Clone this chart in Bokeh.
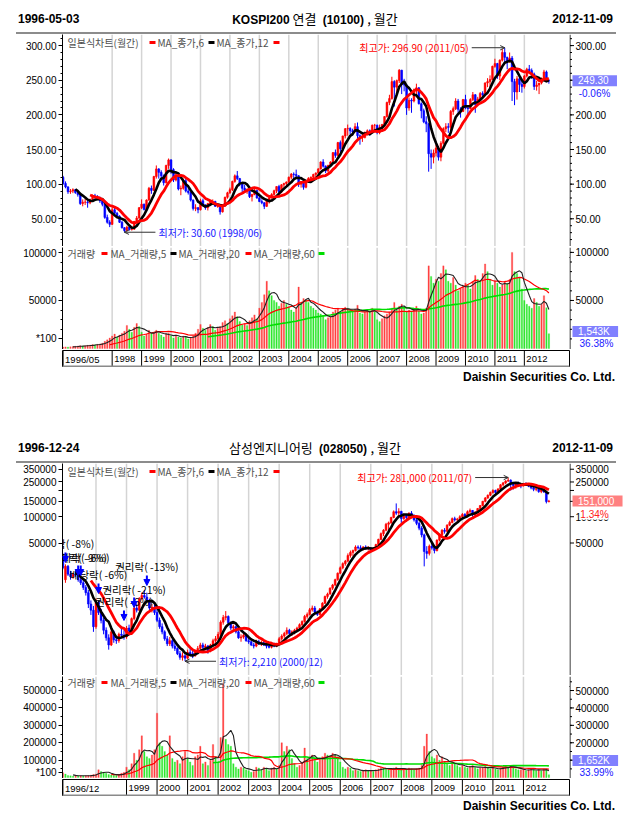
import numpy as np
from bokeh.plotting import figure
from bokeh.models import (Range1d, LinearAxis, LogAxis, FixedTicker, NumeralTickFormatter,
                          Label, BoxAnnotation, ColumnDataSource, Span, Arrow, NormalHead, Div)
from bokeh.layouts import column, row
from bokeh.embed import file_html
from bokeh.resources import INLINE
from bokeh.core.properties import value

# ======================= KOSPI200 (monthly 1996/05 - 2012/11) =======================
k_title = ("KOSPI200", "연결", "(10100)", "월간")
k_from, k_to = "1996-05-03", "2012-11-09"
k_start = (1996, 5)
k_open = [
    110, 101, 96, 89, 90, 92, 88, 85,
    72, 74, 74, 73, 78, 83, 82, 80, 76, 71, 52, 45,
    42, 63, 58, 54, 45, 37, 33, 38, 34.5, 35, 46, 51,
    66, 71, 63.5, 77, 94, 91, 111, 122, 117, 112, 102, 127,
    135, 121, 106, 111, 93, 94, 105, 90, 88, 77, 65, 66,
    63, 76, 70, 66, 72, 75, 75, 68, 68.5, 60, 68, 81,
    87.5, 92, 104, 112, 108, 101, 94, 91, 92, 82, 85, 91,
    80, 75, 73, 68, 76, 80.5, 85, 90.5, 96.5, 88.5, 99, 101,
    103, 110, 114.5, 114, 112, 100, 102, 95.5, 104, 108.5, 110, 114,
    116, 122, 132, 126, 119, 127, 132, 145.5, 141.5, 160, 151, 169.5,
    180, 180.5, 177, 175.5, 183, 170, 167, 167.5, 174.5, 177, 176, 185,
    185, 174.5, 181.5, 186, 197.5, 218, 223.5, 248, 240, 249.5, 264.5, 244,
    243, 210, 221, 220, 236, 239, 216, 206, 190, 187, 144, 139,
    145, 152, 139, 159, 180, 183, 182, 205, 209, 220, 208, 205,
    222, 210, 209, 222, 229, 215, 223, 231, 229, 246, 248, 251,
    270, 274, 256, 279, 290, 283, 278, 282, 248, 233, 252, 244,
    241, 256, 266, 264, 259, 241, 243, 246, 250, 262, 249.45]
k_high = [
    112, 104, 97, 93, 94, 93, 89, 86,
    78, 79, 76, 79, 85, 86, 84, 82, 77, 72, 56, 48,
    66, 68, 60, 55, 47, 38, 40, 39, 37, 47, 54, 67,
    78, 72, 78, 96, 98, 112, 127, 123, 120, 114, 128, 137,
    136, 123, 118, 113, 98, 108, 108, 94, 89, 78, 71, 67,
    79, 79, 71, 73, 77, 78, 76, 71, 70, 69, 82, 89,
    95, 105, 114, 119, 109, 103, 99, 94, 93, 86, 93, 92,
    83, 78, 74, 78, 81, 87, 92, 97, 99, 100, 102, 104,
    111, 116, 117, 121, 113, 104, 103, 105, 110, 111, 115, 117,
    123, 133, 136, 127, 128, 133, 146, 150, 161, 163, 170, 181,
    186, 182, 180, 188, 189, 172, 172, 176, 179, 179, 186, 187,
    186, 186, 187, 198, 219, 229, 255, 250, 251, 266, 265, 252,
    244, 225, 224, 238, 245, 240, 218, 209, 198, 188, 150, 150,
    157, 155, 162, 182, 188, 188, 207, 212, 224, 223, 211, 223,
    229, 213, 224, 233, 230, 226, 233, 234, 247, 253, 257, 271,
    281, 275, 280, 295, 296.9, 284, 290, 285, 252, 256, 257, 251,
    258, 268, 272, 267, 261, 249, 246, 254, 265, 264, 252]
k_low = [
    99, 94, 86, 86, 87, 86, 82, 70,
    68, 70, 66, 71, 77, 79, 77, 73, 68, 50, 43, 38,
    41, 56, 52, 44, 36, 30.6, 32, 33, 33, 34, 45, 50,
    64, 62, 62, 76, 86, 90, 108, 108, 108, 98, 101, 122,
    115, 103, 104, 91, 84, 92, 88, 85, 75, 62, 61, 58,
    62, 69, 63, 62, 70, 72, 67, 66, 56, 59, 67, 79,
    86, 90, 102, 106, 97, 88, 88, 86, 80, 75, 84, 79,
    74, 71, 64, 67, 72, 79, 84, 87, 86, 87, 95, 96,
    101, 107, 106, 110, 96, 95, 92, 94, 102, 104, 107, 110,
    113, 121, 124, 116, 117, 126, 131, 138, 140, 146, 150, 166,
    170, 172, 170, 175, 166, 157, 161, 166, 170, 170, 175, 178,
    172, 172, 176, 185, 196, 214, 222, 212, 232, 246, 230, 234,
    200, 206, 203, 218, 230, 215, 195, 188, 175, 118, 122, 130,
    140, 134, 133, 157, 175, 174, 178, 200, 207, 203, 196, 204,
    208, 200, 208, 220, 203, 213, 220, 224, 228, 240, 240, 250,
    268, 252, 250, 277, 274, 266, 275, 220, 214, 222, 233, 232,
    238, 254, 260, 252, 236, 235, 230, 244, 248, 247, 245]
k_close = [
    101, 96, 89, 90, 92, 88, 85, 72,
    74, 74, 73, 78, 83, 82, 80, 76, 71, 52, 45, 42,
    63, 58, 54, 45, 37, 33, 38, 34.5, 35, 46, 51, 66,
    71, 63.5, 77, 94, 91, 111, 122, 117, 112, 102, 127, 135,
    121, 106, 111, 93, 94, 105, 90, 88, 77, 65, 66, 63,
    76, 70, 66, 72, 75, 75, 68, 68.5, 60, 68, 81, 87.5,
    92, 104, 112, 108, 101, 94, 91, 92, 82, 85, 91, 80,
    75, 73, 68, 76, 80.5, 85, 90.5, 96.5, 88.5, 99, 101, 103,
    110, 114.5, 114, 112, 100, 102, 95.5, 104, 108.5, 110, 114, 116,
    122, 132, 126, 119, 127, 132, 145.5, 141.5, 160, 151, 169.5, 180,
    180.5, 177, 175.5, 183, 170, 167, 167.5, 174.5, 177, 176, 185, 185,
    174.5, 181.5, 186, 197.5, 218, 223.5, 248, 240, 249.5, 264.5, 244, 243,
    210, 221, 220, 236, 239, 216, 206, 190, 187, 144, 139, 145,
    152, 139, 159, 180, 183, 182, 205, 209, 220, 208, 205, 222,
    210, 209, 222, 229, 215, 223, 231, 229, 246, 248, 251, 270,
    274, 256, 279, 290, 283, 278, 282, 248, 233, 252, 244, 241,
    256, 266, 264, 259, 241, 243, 246, 250, 262, 249.45, 249.3]
k_vol = [  # x100 shares
    1500, 1700, 1500, 1800, 2000, 2300, 2600, 3000,
    2600, 2900, 3300, 3600, 4200, 3900, 4400, 4800, 5500, 7500, 9000, 11000,
    13000, 15000, 12000, 14000, 16000, 18000, 24000, 20000, 17000, 22000, 26000, 23000,
    17000, 13000, 15000, 19000, 16000, 17000, 19000, 16000, 14000, 12000, 15000, 16000,
    13000, 11000, 14000, 12000, 11000, 13000, 12000, 10000, 11000, 13000, 16000, 20000,
    25000, 21000, 19000, 22000, 25000, 23000, 19000, 21000, 23000, 27000, 29000, 26000,
    31000, 34000, 38000, 33000, 28000, 25000, 26000, 24000, 29000, 32000, 35000, 31000,
    42000, 48000, 56000, 70000, 60000, 55000, 50000, 48000, 44000, 47000, 50000, 46000,
    43000, 40000, 38000, 42000, 64000, 47000, 52000, 50000, 48000, 44000, 42000, 40000,
    37000, 36000, 34000, 30000, 32000, 33000, 38000, 40000, 42000, 39000, 41000, 43000,
    42000, 40000, 38000, 41000, 45000, 37000, 36000, 38000, 40000, 39000, 42000, 38000,
    30000, 28000, 31000, 34000, 36000, 38000, 42000, 48000, 40000, 44000, 46000, 43000,
    38000, 40000, 38000, 42000, 44000, 39000, 36000, 37000, 42000, 86000, 75000, 68000,
    72000, 70000, 78000, 86000, 82000, 70000, 68000, 74000, 66000, 60000, 62000, 65000,
    68000, 66000, 62000, 70000, 76000, 72000, 70000, 78000, 88000, 80000, 72000, 66000,
    70000, 68000, 64000, 66000, 70000, 68000, 72000, 100000, 80000, 78000, 74000, 62000,
    50000, 46000, 44000, 42000, 52000, 48000, 44000, 46000, 55000, 42410, 15430]
k_date_labels = ["1996/05", "1998", "1999", "2000", "2001", "2002", "2003", "2004",
                 "2005", "2006", "2007", "2008", "2009", "2010", "2011", "2012"]
k_grid_years = ["1998", "1999", "2000", "2001", "2002", "2003", "2004", "2005",
                "2006", "2007", "2008", "2009", "2010", "2011", "2012"]

# ======================= Samsung Engineering (monthly 1996/12 - 2012/11) =======================
s_title = ("", "삼성엔지니어링", "(028050)", "월간")
s_from, s_to = "1996-12-24", "2012-11-09"
s_start = (1996, 12)
s_open = [
    34000,
    19000, 27000, 22000, 20500, 22000, 21500, 19000, 17500, 15500, 13500, 10000, 8500,
    5500, 10500, 8000, 6500, 5000, 4100, 3400, 4800, 3900, 3800, 4500, 4400,
    4200, 5300, 4900, 6800, 9000, 8500, 11500, 12500, 12000, 11000, 9000, 9200,
    8000, 6500, 5500, 4800, 4000, 3500, 3800, 3300, 3100, 2700, 2450, 2550,
    2400, 2800, 2700, 2550, 2900, 3100, 3400, 3200, 3300, 2900, 3400, 3800,
    4000, 4500, 6200, 7000, 7200, 6100, 5300, 5500, 4800, 4100, 4200, 4400,
    3800, 3700, 3400, 3300, 3700, 3500, 3600, 3400, 3300, 3200, 3400, 3300,
    3500, 4000, 4300, 4600, 5000, 4600, 4800, 5000, 5300, 5800, 6300, 7200,
    7600, 8600, 9000, 8100, 7600, 8800, 10200, 12200, 13000, 15200, 16500, 19000,
    22500, 26000, 29000, 31000, 36000, 39000, 41000, 45000, 44000, 42500, 45000, 43000,
    44000, 41500, 43000, 48000, 55000, 64000, 70000, 82000, 85000, 98000, 114000, 110000,
    115000, 95000, 104000, 98000, 110000, 104000, 92000, 84000, 74000, 62000, 40000, 38000,
    46000, 44000, 41000, 54000, 62000, 70000, 68000, 80000, 86000, 95000, 92000, 94000,
    100000, 106000, 102000, 114000, 118000, 106000, 112000, 124000, 134000, 150000, 164000, 176000,
    190000, 200000, 190000, 208000, 232000, 244000, 256000, 262000, 236000, 228000, 240000, 232000,
    226000, 238000, 236000, 224000, 214000, 206000, 210000, 194000, 202000, 192000, 149000]
s_high = [
    38000,
    28500, 28000, 24000, 23000, 25000, 23000, 21000, 19000, 16500, 14500, 11000, 9500,
    11500, 11000, 8800, 7000, 5400, 4500, 5200, 5000, 4300, 4700, 5200, 5000,
    5600, 5800, 7000, 9500, 10000, 12000, 13500, 14500, 13500, 11500, 10000, 9800,
    8800, 7000, 6000, 5000, 4300, 4200, 4000, 3600, 3200, 2900, 2800, 2650,
    3000, 3100, 2900, 3000, 3300, 3600, 3600, 3500, 3400, 3500, 4000, 4300,
    4800, 6500, 7500, 8300, 7400, 6300, 5800, 5700, 5000, 4500, 4700, 4500,
    4100, 3800, 3600, 3900, 3900, 3800, 3800, 3600, 3500, 3500, 3600, 3600,
    4200, 4500, 4800, 5400, 5200, 5000, 5200, 5500, 6000, 6500, 7500, 8000,
    9000, 9600, 9500, 8400, 9000, 10500, 12500, 13500, 15500, 17000, 19500, 23000,
    27000, 30000, 32000, 38000, 41000, 42000, 47000, 47000, 47000, 46000, 47000, 46000,
    45000, 45000, 49000, 56000, 66000, 72000, 85000, 88000, 100000, 118000, 142000, 125000,
    117000, 108000, 106000, 112000, 116000, 106000, 96000, 88000, 78000, 64000, 46000, 48000,
    52000, 47000, 55000, 64000, 72000, 74000, 82000, 90000, 98000, 100000, 97000, 104000,
    110000, 110000, 118000, 124000, 119000, 116000, 126000, 136000, 152000, 168000, 180000, 194000,
    206000, 204000, 212000, 236000, 250000, 262000, 281000, 268000, 250000, 248000, 252000, 240000,
    244000, 248000, 240000, 232000, 222000, 216000, 218000, 208000, 212000, 196000, 156000]
s_low = [
    25000,
    17500, 21000, 19000, 19500, 20500, 18000, 16500, 14500, 12500, 9000, 7500, 4800,
    5200, 7500, 6000, 4500, 3800, 3000, 3300, 3600, 3500, 3600, 4100, 3900,
    4000, 4500, 4800, 6500, 8000, 8300, 11000, 11500, 10500, 8500, 8000, 7500,
    6200, 5200, 4500, 3800, 3300, 3300, 3100, 2900, 2600, 2300, 2250, 2210,
    2350, 2600, 2400, 2500, 2800, 3000, 3000, 3000, 2700, 2800, 3300, 3600,
    3800, 4300, 5800, 6500, 5800, 5000, 4800, 4600, 4000, 3700, 4000, 3700,
    3500, 3300, 3100, 3200, 3400, 3300, 3300, 3100, 3100, 3100, 3200, 3200,
    3400, 3800, 4100, 4400, 4300, 4300, 4500, 4800, 5100, 5500, 6100, 6800,
    7400, 8200, 7800, 7300, 7400, 8600, 10000, 11500, 12800, 14500, 16000, 18500,
    22000, 25000, 27500, 30000, 34000, 35000, 40000, 42000, 41000, 41000, 42000, 41000,
    40000, 40500, 42000, 47000, 54000, 60000, 68000, 70000, 83000, 96000, 105000, 100000,
    85000, 92000, 88000, 96000, 100000, 88000, 80000, 70000, 58000, 27000, 33000, 36000,
    42000, 38000, 40000, 52000, 60000, 64000, 66000, 78000, 84000, 88000, 86000, 92000,
    97000, 98000, 100000, 110000, 100000, 102000, 110000, 120000, 132000, 146000, 160000, 172000,
    184000, 182000, 186000, 204000, 222000, 236000, 250000, 200000, 205000, 210000, 222000, 212000,
    222000, 230000, 218000, 206000, 196000, 196000, 188000, 186000, 188000, 142000, 146000]
s_close = [
    26000,
    27000, 22000, 20500, 22000, 21500, 19000, 17500, 15500, 13500, 10000, 8500, 5500,
    10500, 8000, 6500, 5000, 4100, 3400, 4800, 3900, 3800, 4500, 4400, 4200,
    5300, 4900, 6800, 9000, 8500, 11500, 12500, 12000, 11000, 9000, 9200, 8000,
    6500, 5500, 4800, 4000, 3500, 3800, 3300, 3100, 2700, 2450, 2550, 2400,
    2800, 2700, 2550, 2900, 3100, 3400, 3200, 3300, 2900, 3400, 3800, 4000,
    4500, 6200, 7000, 7200, 6100, 5300, 5500, 4800, 4100, 4200, 4400, 3800,
    3700, 3400, 3300, 3700, 3500, 3600, 3400, 3300, 3200, 3400, 3300, 3500,
    4000, 4300, 4600, 5000, 4600, 4800, 5000, 5300, 5800, 6300, 7200, 7600,
    8600, 9000, 8100, 7600, 8800, 10200, 12200, 13000, 15200, 16500, 19000, 22500,
    26000, 29000, 31000, 36000, 39000, 41000, 45000, 44000, 42500, 45000, 43000, 44000,
    41500, 43000, 48000, 55000, 64000, 70000, 82000, 85000, 98000, 114000, 110000, 115000,
    95000, 104000, 98000, 110000, 104000, 92000, 84000, 74000, 62000, 40000, 38000, 46000,
    44000, 41000, 54000, 62000, 70000, 68000, 80000, 86000, 95000, 92000, 94000, 100000,
    106000, 102000, 114000, 118000, 106000, 112000, 124000, 134000, 150000, 164000, 176000, 190000,
    200000, 190000, 208000, 232000, 244000, 256000, 262000, 236000, 228000, 240000, 232000, 226000,
    238000, 236000, 224000, 214000, 206000, 210000, 194000, 202000, 192000, 149000, 151000]
s_vol = [  # x100 shares
    28000,
    20000, 12000, 10000, 9000, 12000, 10000, 11000, 9000, 10000, 12000, 14000, 18000,
    20000, 45000, 35000, 30000, 25000, 18000, 15000, 14000, 12000, 18000, 25000, 30000,
    60000, 45000, 80000, 140000, 100000, 160000, 240000, 150000, 120000, 110000, 130000, 160000,
    370000, 200000, 180000, 150000, 130000, 240000, 110000, 90000, 100000, 80000, 120000, 150000,
    110000, 90000, 70000, 120000, 130000, 180000, 80000, 90000, 70000, 100000, 190000, 120000,
    90000, 230000, 540000, 220000, 190000, 180000, 80000, 60000, 50000, 60000, 55000, 45000,
    40000, 30000, 35000, 60000, 55000, 45000, 60000, 50000, 40000, 55000, 60000, 50000,
    70000, 200000, 150000, 180000, 160000, 110000, 80000, 60000, 70000, 90000, 170000, 110000,
    120000, 130000, 100000, 90000, 110000, 120000, 140000, 130000, 120000, 140000, 130000, 120000,
    90000, 60000, 50000, 60000, 55000, 40000, 45000, 40000, 35000, 40000, 45000, 40000,
    40000, 35000, 45000, 50000, 60000, 55000, 50000, 45000, 50000, 55000, 60000, 50000,
    45000, 50000, 45000, 55000, 50000, 45000, 50000, 55000, 70000, 180000, 250000, 150000,
    120000, 110000, 130000, 100000, 120000, 90000, 80000, 70000, 90000, 80000, 70000, 60000,
    70000, 60000, 55000, 65000, 70000, 60000, 50000, 55000, 60000, 65000, 55000, 50000,
    55000, 50000, 45000, 55000, 60000, 65000, 60000, 70000, 55000, 50000, 45000, 45000,
    45000, 40000, 45000, 50000, 45000, 40000, 45000, 40000, 50000, 48600, 16520]
s_date_labels = ["1996/12", "1999", "2000", "2001", "2002", "2003", "2004", "2005",
                 "2006", "2007", "2008", "2009", "2010", "2011", "2012"]
s_grid_years = ["1998", "1999", "2000", "2001", "2002", "2003", "2004", "2005",
                "2006", "2007", "2008", "2009", "2010", "2011", "2012"]
# rights-issue / dividend markers (month, arrow tip price, text)
s_ev_months = ["1997/01", "1997/06", "1997/07", "1998/02", "1998/12", "1999/04", "1999/09"]
s_ev_tips = [29900, 21200, 21200, 13200, 6480, 9120, 16300]
s_ev_texts = ["권리락( -8%)", "권리락( -9%)", "권리락( -6%)", "배당락( -6%)",
              "권리락( -6%)", "권리락( -21%)", "권리락( -13%)"]

# ======================= layout constants =======================
W = 628
FL = 62               # left border (left axis)
FW = 507              # frame width  (x 62 .. 569)
MAINW = FL + FW       # 569
SIDEW = W - MAINW     # 59 : right scale strip with value labels
HD = 34               # header height
PF = 212              # price frame height
VF = 102              # volume frame height
DF = 17               # date strip height
KR = "Noto Sans CJK KR"
LAT = "Liberation Sans"
UP, DN = "#ff0000", "#0000ff"
NB = "\u00a0"


def sma(a, n):
    a = np.asarray(a, dtype=float)
    out = np.full(a.shape, np.nan)
    if len(a) >= n:
        cs = np.cumsum(np.insert(a, 0, 0.0))
        out[n - 1:] = (cs[n:] - cs[:-n]) / n
    return out


def month_index(start, lab):
    if "/" in lab:
        y, m = (int(t) for t in lab.split("/"))
    else:
        y, m = int(lab), 1
    return (y - start[0]) * 12 + (m - start[1])


def month_label(start, i):
    t = start[1] - 1 + i
    return f"{start[0] + t // 12}/{t % 12 + 1:02d}"


def sbox(fig, l, r, b, t, color):
    fig.add_layout(BoxAnnotation(left=l, right=r, bottom=b, top=t,
                                 left_units="screen", right_units="screen",
                                 bottom_units="screen", top_units="screen",
                                 fill_color=color, fill_alpha=1.0, line_color=None,
                                 level="overlay"))


def lab(fig, x, y, text, size="10px", color="black", font=LAT, bold=False,
        align="left", baseline="middle", xu="screen", yu="screen", **kw):
    fig.add_layout(Label(x=x, y=y, x_units=xu, y_units=yu, text=text, text_font=font,
                         text_font_size=size, text_color=color,
                         text_font_style="bold" if bold else "normal",
                         text_align=align, text_baseline=baseline, **kw))


def add_left_axis(fig, cls, ticks, minor, fmt, overrides=None):
    ax = cls(ticker=FixedTicker(ticks=ticks, minor_ticks=minor),
             formatter=NumeralTickFormatter(format=fmt),
             axis_line_color="black", major_tick_line_color="black",
             minor_tick_line_color="black", major_tick_in=0, major_tick_out=4,
             minor_tick_in=0, minor_tick_out=2, major_label_text_font=LAT,
             major_label_text_font_size="10px", major_label_text_color="black",
             major_label_standoff=2)
    if overrides:
        ax.major_label_overrides = overrides
    fig.add_layout(ax, "left")


def base_fig(w, h, xr, yr, ytype="linear", left=0, right=0):
    f = figure(width=w, height=h, x_range=xr, y_range=yr, y_axis_type=ytype,
               x_axis_location=None, y_axis_location=None,
               min_border_left=left, min_border_right=right, min_border_top=0,
               min_border_bottom=0, toolbar_location=None, output_backend="svg",
               outline_line_color=None, background_fill_color="white",
               border_fill_color="white")
    f.grid.visible = False
    return f


def div(h, inner):
    return Div(text=f'<div style="position:relative;width:{W}px;height:{h}px;overflow:hidden;">'
                    f'{inner}</div>', width=W, height=h, margin=0)


def header(frm, title, to):
    txt = 'position:absolute;top:12px;line-height:14px;white-space:nowrap;color:#000;'
    lat = f'font-family:{LAT};font-weight:bold;font-size:12px;'
    a, b, cc, d = title
    head = f'<span style="{lat}">{a}</span> ' if a else ''
    ttl = (f'{head}{b} <span style="{lat}">&nbsp;{cc}&nbsp;</span>, {d}')
    inner = (f'<span style="{txt}left:18px;{lat}">{frm}</span>'
             f'<span style="{txt}left:0px;width:630px;text-align:center;font-family:{KR};font-size:13px;">{ttl}</span>'
             f'<span style="{txt}right:15px;{lat}">{to}</span>'
             f'<div style="position:absolute;left:16px;top:{HD - 2}px;width:600px;height:2px;background:#8c8c8c;"></div>')
    return div(HD, inner)


def hline():
    return div(1, '<div style="position:absolute;left:16px;top:0px;width:600px;height:1px;background:#000;"></div>')


def footer(h):
    inner = (f'<span style="position:absolute;right:13px;top:3px;line-height:14px;white-space:nowrap;'
             f'font-family:{LAT};font-weight:bold;font-size:12px;color:#000;">Daishin Securities Co. Ltd.</span>')
    return div(h, inner)


def right_scale(s, ticks, minor, fmt, hide=()):
    """Right-hand scale: axis line, ticks and labels placed on the strip's y scale."""
    s.add_layout(Span(location=0.5, dimension="height", line_color="black", line_width=1))
    s.ray(x=[0.5] * len(ticks), y=ticks, length=4, length_units="screen", angle=0.0,
          line_color="black", line_width=1)
    if minor:
        s.ray(x=[0.5] * len(minor), y=minor, length=2, length_units="screen", angle=0.0,
              line_color="black", line_width=1)
    tk = [t for t in ticks if t not in hide]
    s.text(x=[6] * len(tk), y=tk, text=[fmt(t) for t in tk], text_align="left",
           text_baseline="middle", text_font=value(LAT), text_font_size="10px",
           text_color="black")


def build(cfg):
    st = cfg["start"]
    o, h, l, c = (np.asarray(cfg[k], float) for k in ("open", "high", "low", "close"))
    vol = np.asarray(cfg["vol"], float)
    n = len(c)
    assert len(o) == len(h) == len(l) == len(vol) == n
    i = np.arange(n)
    xr = Range1d(*cfg["xr"])
    sxr = Range1d(0, SIDEW)
    grid_i = [month_index(st, g) for g in cfg["grid"]]
    fmt = cfg["vfmt"]

    # ---------------- price panel ----------------
    pyr = Range1d(*cfg["pyr"])
    p = base_fig(MAINW, PF, xr, pyr, cfg["ptype"], left=FL)
    for g in grid_i:
        p.add_layout(Span(location=g, dimension="height", line_color="#d4d4d4",
                          line_width=1.5, level="underlay"))
    col = np.where(c >= o, UP, DN)
    src = ColumnDataSource(dict(x=i, h=h, l=l, top=np.maximum(o, c),
                                bot=np.minimum(o, c), col=col))
    p.segment(x0="x", y0="l", x1="x", y1="h", line_color="col", line_width=1, source=src)
    p.vbar(x="x", width=0.7, top="top", bottom="bot", fill_color="col",
           line_color="col", line_width=0.6, source=src)
    p.line(i, sma(c, 6), line_color="black", line_width=2.6)
    p.line(i, sma(c, 12), line_color="#ff0000", line_width=2.8)
    add_left_axis(p, cfg["pax"], cfg["pticks"], cfg["pminor"], cfg["pfmt"], cfg.get("pover"))

    ly = PF - 8
    for txt, x in [("일본식차트(월간)", 5), ("MA_종가,6", 95), ("MA_종가,12", 154)]:
        lab(p, x, ly, txt, size="10px", font=KR, color="#505050")
    for x0, x1, cc in [(87, 93, UP), (146, 152, "black"), (211, 217, UP)]:
        sbox(p, x0, x1, ly - 1.5, ly + 1.5, cc)

    imax, imin = int(np.argmax(h)), int(np.argmin(l))
    p.ray(x=[imax], y=[h[imax]], length=33, length_units="screen", angle=np.pi,
          line_color="#303030", line_width=1)
    p.ray(x=[imax, imax], y=[h[imax], h[imax]], length=5, length_units="screen",
          angle=[np.pi - 0.45, np.pi + 0.45], line_color="#303030", line_width=1)
    p.text(x=[imax], y=[h[imax]], text=[f"최고가: {fmt(h[imax])} ({month_label(st, imax)})"],
           x_offset=-36, text_align="right", text_baseline="middle", text_color="#ff0000",
           text_font=value(KR), text_font_size="10px")
    p.ray(x=[imin], y=[l[imin]], length=31, length_units="screen", angle=0.0,
          line_color="#303030", line_width=1)
    p.ray(x=[imin, imin], y=[l[imin], l[imin]], length=5, length_units="screen",
          angle=[0.45, -0.45], line_color="#303030", line_width=1)
    p.text(x=[imin], y=[l[imin]], text=[f"최저가: {fmt(l[imin])} ({month_label(st, imin)})"],
           x_offset=34, text_align="left", text_baseline="middle", text_color="#2020ff",
           text_font=value(KR), text_font_size="10px")

    if cfg.get("ev_months"):
        y0, y1 = cfg["pyr"]
        k = 10 ** (10 * np.log10(y1 / y0) / PF)
        ex = [month_index(st, m) for m in cfg["ev_months"]]
        tips = np.asarray(cfg["ev_tips"], float)
        esrc = ColumnDataSource(dict(x=ex, ye=tips, ys=tips * k))
        p.add_layout(Arrow(end=NormalHead(size=6, fill_color="#0000ff", line_color="#0000ff"),
                           x_start="x", y_start="ys", x_end="x", y_end="ye",
                           line_color="#0000ff", line_width=2, source=esrc))
        p.text(x=ex, y=tips * k, text=cfg["ev_texts"], y_offset=-1, text_align="center",
               text_baseline="bottom", text_color="black", text_font=value(KR),
               text_font_size="10.5px")

    # right strip: scale + current value box
    ps = base_fig(SIDEW, PF, sxr, pyr, cfg["ptype"])
    right_scale(ps, cfg["pticks"], cfg["pminor"], cfg["ptfmt"], cfg.get("phide", ()))
    pct = (c[-1] / c[-2] - 1) * 100
    boxc, pc = ("#ff8080", "#ff2020") if pct >= 0 else ("#8080ff", "#2020ff")
    lab(ps, 3, c[-1], f"{NB * 2}{fmt(c[-1])}{NB * 3}", yu="data", color="white",
        background_fill_color=boxc, background_fill_alpha=1.0)
    lab(ps, 25, c[-1], f"{pct:.2f}%", yu="data", color=pc, align="center",
        y_offset=-13, background_fill_color="white", background_fill_alpha=1.0)

    # ---------------- volume panel ----------------
    vyr = Range1d(*cfg["vyr"])
    v = base_fig(MAINW, VF, xr, vyr, left=FL)
    for g in grid_i:
        v.add_layout(Span(location=g, dimension="height", line_color="#d4d4d4",
                          line_width=1.5, level="underlay"))
    prev = np.concatenate([[0.0], vol[:-1]])
    vcol = np.where(vol >= prev, "#ff4040", "#30e830")
    v.vbar(x=i, top=vol, bottom=0, width=0.55, fill_color=vcol, line_color=vcol, line_width=0.3)
    v.line(i, sma(vol, 60), line_color="#00dd00", line_width=1.6)
    v.line(i, sma(vol, 20), line_color="#ff0000", line_width=1.2)
    v.line(i, sma(vol, 5), line_color="#202020", line_width=1.1)
    unit_tick = cfg["unit_tick"]
    add_left_axis(v, LinearAxis, [unit_tick] + cfg["vticks"], cfg["vminor"], "0",
                  {unit_tick: "*100"})
    ly = VF - 6
    for txt, x in [("거래량", 5), ("MA_거래량,5", 48), ("MA_거래량,20", 116), ("MA_거래량,60", 191)]:
        lab(v, x, ly, txt, size="10px", font=KR, color="#505050")
    for x0, x1, cc in [(39, 45, UP), (108, 114, "black"), (183, 189, UP), (256, 262, "#00dd00")]:
        sbox(v, x0, x1, ly - 1.5, ly + 1.5, cc)

    vs = base_fig(SIDEW, VF, sxr, vyr)
    right_scale(vs, cfg["vticks"], cfg["vminor"], lambda t: f"{t:.0f}")
    vp = vol[-1] / vol[-2] * 100
    lab(vs, 3, 18, f"{NB * 2}{vol[-1] * 100 / 1000:,.0f}K{NB * 3}", color="white",
        background_fill_color="#8080ff", background_fill_alpha=1.0)
    lab(vs, 27, 6, f"{vp:.2f}%", color="#2020ff", align="center")

    # ---------------- date strip ----------------
    d = base_fig(W, DF, xr, Range1d(0, 1), left=FL, right=W - FL - FW)
    d.outline_line_color = "black"
    di = [month_index(st, s) for s in cfg["dates"]]
    d.segment(x0=di, y0=[0] * len(di), x1=di, y1=[1] * len(di), line_color="black", line_width=1)
    d.text(x=di, y=[0.5] * len(di), text=cfg["dates"], x_offset=2, text_baseline="middle",
           text_align="left", text_font=value(LAT), text_font_size="9.5px", text_color="black")
    sbox(d, 0, FW, 0, 2, "#8a8a8a")

    return [header(cfg["from"], cfg["title"], cfg["to"]),
            row(p, ps, spacing=0), hline(), row(v, vs, spacing=0), hline(), d,
            footer(cfg["foot"])]


top = build(dict(
    title=k_title, start=k_start, open=k_open, high=k_high, low=k_low, close=k_close, vol=k_vol,
    xr=(-0.24, 206.4), grid=k_grid_years, dates=k_date_labels,
    **{"from": k_from}, to=k_to,
    pyr=(10, 316), ptype="linear", pax=LinearAxis,
    pticks=[50, 100, 150, 200, 250, 300],
    pminor=[t for t in range(20, 316, 10)], pfmt="0.00", ptfmt=lambda t: f"{t:.2f}",
    vfmt=lambda x: f"{x:.2f}",
    vyr=(-1020, 105100), vticks=[50000, 100000], unit_tick=10000,
    vminor=[t for t in range(10000, 105000, 10000)],
    foot=429 - (HD + PF + 1 + VF + 1 + DF)))

bottom = build(dict(
    title=s_title, start=s_start, open=s_open, high=s_high, low=s_low, close=s_close, vol=s_vol,
    xr=(-0.16, 199.1), grid=s_grid_years, dates=s_date_labels,
    **{"from": s_from}, to=s_to,
    pyr=(1518, 407000), ptype="log", pax=LogAxis,
    pticks=[50000, 100000, 150000, 200000, 250000, 350000], pminor=[],
    pover={200000: ""}, pfmt="0", ptfmt=lambda t: f"{t:.0f}", phide=(200000,),
    vfmt=lambda x: f"{x:,.0f}",
    ev_months=s_ev_months, ev_tips=s_ev_tips, ev_texts=s_ev_texts,
    vyr=(-5200, 580500), vticks=[100000, 200000, 300000, 400000, 500000], unit_tick=30000,
    vminor=[t for t in range(50000, 580000, 50000)],
    foot=819 - 429 - (HD + PF + 1 + VF + 1 + DF)))

layout = column(*(top + bottom), spacing=0)
open("out.html", "w").write(file_html(layout, INLINE, title="chart"))
